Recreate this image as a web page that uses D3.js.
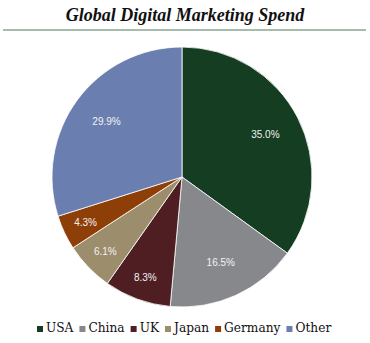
<!DOCTYPE html>
<html><head><meta charset="utf-8">
<script src="https://cdn.jsdelivr.net/npm/d3@7"></script>
<style>body{margin:0;background:#fff}</style>
</head><body>
<script>
const categories = ["USA","China","UK","Japan","Germany","Other"];
const values = [35.0,16.5,8.3,6.1,4.3,29.9];
const colors = ["#143d22","#87888c","#4e1e23","#9c8d6c","#8e3f07","#6a7fb0"];
const title = "Global Digital Marketing Spend";

const W=370,H=343;
const svg=d3.select("body").append("svg").attr("width",W).attr("height",H);
svg.append("text").attr("x",185).attr("y",21).attr("text-anchor","middle")
  .style("font-family","'Liberation Serif',serif").style("font-weight","bold").style("font-style","italic")
  .style("font-size","18px").attr("fill","#111").text(title);
svg.append("line").attr("x1",3).attr("x2",366).attr("y1",30).attr("y2",30).attr("stroke","#4f7a5c").attr("stroke-width",1.2);

const cx=182,cy=177,r=130;
const data=categories.map((c,i)=>({c,v:values[i],col:colors[i]}));
const pie=d3.pie().value(d=>d.v).sort(null);
const arc=d3.arc().innerRadius(0).outerRadius(r);
const g=svg.append("g").attr("transform",`translate(${cx},${cy})`);
const arcs=pie(data);
g.selectAll("path").data(arcs).join("path").attr("d",arc).attr("fill",d=>d.data.col).attr("stroke","#fff").attr("stroke-width",0.8);
g.selectAll("text").data(arcs).join("text").attr("transform",d=>{
    const k=d.data.v<10?0.82:0.72;
    const la=d3.arc().innerRadius(r*k).outerRadius(r*k);
    return `translate(${la.centroid(d)})`;})
  .attr("text-anchor","middle").attr("dy","0.35em").style("font-family","'Liberation Sans',Arial,sans-serif")
  .style("font-size","10px").attr("fill","#f2f2f2").text(d=>d.data.v.toFixed(1)+"%");

const leg=svg.append("g").attr("transform","translate(0,332)");
let x=37;
data.forEach(d=>{
  leg.append("rect").attr("x",x).attr("y",-6).attr("width",6).attr("height",6).attr("fill",d.col);
  const t=leg.append("text").attr("x",x+9).attr("y",0).style("font-family","'DejaVu Serif',serif").style("font-size","12.2px").attr("fill","#111").text(d.c);
  x+=9+t.node().getComputedTextLength()+6;
});
</script>
</body></html>
